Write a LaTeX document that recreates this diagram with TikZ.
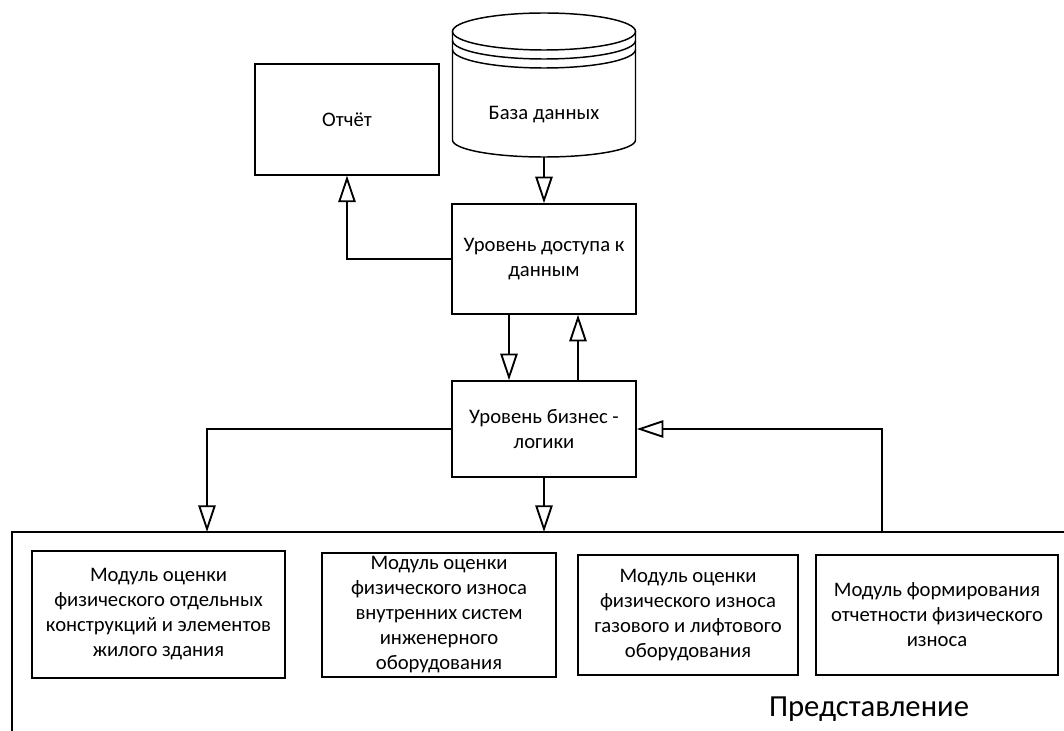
\documentclass[tikz,border=0pt]{standalone}
\usepackage{fontspec}
\setmainfont{Carlito}
\usetikzlibrary{arrows.meta}

\begin{document}
\begin{tikzpicture}[x=0.75pt,y=-0.75pt]
      \tikzset{block/.style={draw, line width=1.1pt, inner sep=0pt, align=center, font=\fontsize{15.5}{18.75}\selectfont},
               conn/.style={line width=1.4pt, -{Triangle[open, length=20pt, width=13pt]}}}
      \clip (0,0) rectangle (1064,731);
%% Database
      \draw[line width=1.1pt] (544,31.5) ellipse [x radius=91.5, y radius=18.5];
      \draw[line width=1.1pt] (452.5,40.5) arc [start angle=180, end angle=0, x radius=91.5, y radius=18.5];
      \draw[line width=1.1pt] (452.5,49.5) arc [start angle=180, end angle=0, x radius=91.5, y radius=18.5];
      \draw[line width=1.1pt] (452.5,31.5) -- (452.5,140) arc [start angle=180, end angle=0, x radius=91.5, y radius=17] -- (635.5,31.5);
      \node[font=\fontsize{15.5}{18.75}\selectfont] (db) at (544,115) {База данных};
      \coordinate (dbbase) at (544,157);
%% Blocks
      \node[block, minimum width=138pt, minimum height=83pt] (report) at (347,119.5) {Отчёт};
      \node[block, minimum width=138pt, minimum height=82.5pt] (access) at (544,259) {Уровень доступа к\\данным};
      \node[block, minimum width=138pt, minimum height=72pt] (business) at (544,429) {Уровень бизнес -\\логики};
%% Presentation layer
      \draw[line width=1.1pt] (1070,532) -- (12,532) -- (12,740);
      \coordinate (in1) at (207,532);
      \coordinate (in2) at (544,532);
      \coordinate (out) at (882,532);
      \node[block, minimum width=190pt, minimum height=95pt] (mod1) at (158.5,614.5) {Модуль оценки\\физического отдельных\\конструкций и элементов\\жилого здания};
      \node[block, minimum width=175.5pt, minimum height=93pt] (mod2) at (439,615) {Модуль оценки\\физического износа\\внутренних систем\\инженерного\\оборудования};
      \node[block, minimum width=165pt, minimum height=90pt] (mod3) at (688,615) {Модуль оценки\\физического износа\\газового и лифтового\\оборудования};
      \node[block, minimum width=181.5pt, minimum height=90pt] (mod4) at (937,615) {Модуль формирования\\отчетности физического\\износа};
      \node[font=\fontsize{23}{27}\selectfont] (viewname) at (869,709) {Представление};
%Arrows
      \draw[conn] (dbbase) -- (access);
      \draw[conn] (access.west) -| (report.south);
      \draw[conn] ([xshift=-26.25pt]access.south) -- ([xshift=-26.25pt]business.north);
      \draw[conn] ([xshift=25.5pt]business.north) -- ([xshift=25.5pt]access.south);
      \draw[conn] (business.west) -| (in1);
      \draw[conn] (business.south) -- (in2);
      \draw[conn] (out) |- (business.east);
\end{tikzpicture}
\end{document}
